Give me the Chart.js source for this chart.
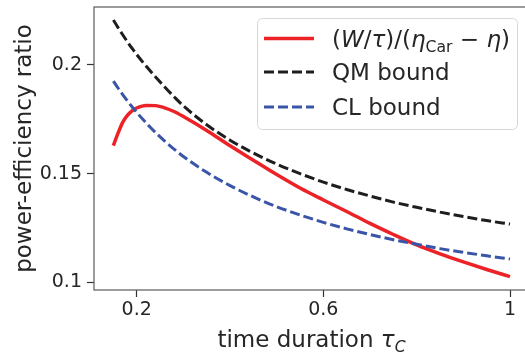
<!DOCTYPE html>
<html>
<head>
<meta charset="utf-8">
<script src="https://cdn.jsdelivr.net/npm/chart.js@4.4.0/dist/chart.umd.min.js"></script>
<style>
  html, body { margin: 0; padding: 0; background: #fff; overflow: hidden; }
  #wrap { width: 525px; height: 356px; overflow: hidden; position: relative; }
  #box { width: 540px; height: 356px; }
</style>
</head>
<body>
<div id="wrap"><div id="box"><canvas id="chart"></canvas></div></div>
<script>
// ================= DATA =================
const tau = [0.15, 0.16, 0.17, 0.18, 0.19, 0.2, 0.22, 0.24, 0.26, 0.28, 0.3, 0.35, 0.4,
             0.45, 0.5, 0.55, 0.6, 0.65, 0.7, 0.75, 0.8, 0.85, 0.9, 0.95, 1.0];
const powerRatio = [0.1629, 0.1686, 0.1736, 0.1768, 0.1789, 0.1802, 0.1814, 0.1813, 0.1803, 0.1786, 0.1763, 0.1699, 0.1628,
                    0.1562, 0.1496, 0.1434, 0.1379, 0.1326, 0.1271, 0.1220, 0.1172, 0.1131, 0.1094, 0.1059, 0.1026];
const qmBound = [0.2207, 0.2172, 0.2139, 0.2107, 0.2077, 0.2048, 0.1995, 0.1946, 0.1899, 0.1854, 0.1812, 0.1725, 0.1654,
                 0.1595, 0.1544, 0.1500, 0.1461, 0.1427, 0.1397, 0.1369, 0.1345, 0.1323, 0.1303, 0.1284, 0.1268];
const clBound = [0.1926, 0.1894, 0.1864, 0.1835, 0.1808, 0.1782, 0.1734, 0.1690, 0.1650, 0.1613, 0.1579, 0.1506, 0.1445,
                 0.1393, 0.1348, 0.1310, 0.1276, 0.1246, 0.1220, 0.1196, 0.1175, 0.1155, 0.1138, 0.1122, 0.1107];

const xTicks = [0.2, 0.6, 1];
const xTickLabels = ["0.2", "0.6", "1"];
const yTicks = [0.1, 0.15, 0.2];
const yTickLabels = ["0.1", "0.15", "0.2"];

// label pieces: [text, style]  n = roman, i = italic, s = subscript roman, si = subscript italic
const redLabel = [["(", "n"], ["W", "i"], ["/", "n"], ["τ", "i"], [")/(", "n"], ["η", "i"], ["Car", "s"], [" − ", "n"], ["η", "i"], [")", "n"]];
const qmLabel = [["QM bound", "n"]];
const clLabel = [["CL bound", "n"]];
const xTitle = [["time duration ", "n"], ["τ", "i"], ["C", "si"]];
const yTitle = "power-efficiency ratio";

// ================= STYLE =================
const FONT = '"DejaVu Sans", sans-serif';
const RED = "#ec2227", BLACK = "#1e1e1e", BLUE = "#3a55a8";
const TEXT = "#262626";

const pts = ys => tau.map((x, i) => ({ x, y: ys[i] }));

// draw a run of mixed text pieces starting at x, on baseline y
function runs(ctx, parts, x, y, size, measureOnly) {
  let w = 0;
  for (const [t, st] of parts) {
    const sub = st === "s" || st === "si";
    const ital = st === "i" || st === "si";
    const fs = sub ? size * 0.68 : size;
    ctx.font = (ital ? "italic " : "") + fs + "px " + FONT;
    if (!measureOnly) ctx.fillText(t, x + w, y + (sub ? size * 0.2 : 0));
    w += ctx.measureText(t).width;
  }
  return w;
}

const decor = {
  id: "decor",
  afterDraw(chart) {
    const { ctx, chartArea: a } = chart;
    ctx.save();
    // frame
    ctx.strokeStyle = "#5a5a5a";
    ctx.lineWidth = 1.2;
    ctx.strokeRect(a.left, a.top, a.right - a.left, a.bottom - a.top);

    ctx.fillStyle = TEXT;
    ctx.textBaseline = "alphabetic";
    ctx.textAlign = "left";

    // x title
    const wx = runs(ctx, xTitle, 0, 0, 23, true);
    runs(ctx, xTitle, (a.left + a.right) / 2 - wx / 2, 347, 23);

    // y title
    ctx.save();
    ctx.translate(31, (a.top + a.bottom) / 2);
    ctx.rotate(-Math.PI / 2);
    ctx.font = "23px " + FONT;
    ctx.textAlign = "center";
    ctx.fillText(yTitle, 0, 0);
    ctx.restore();

    // legend box
    const bx = 257.5, by = 18.5, bw = 260, bh = 111, r = 5;
    ctx.beginPath();
    ctx.moveTo(bx + r, by);
    ctx.arcTo(bx + bw, by, bx + bw, by + bh, r);
    ctx.arcTo(bx + bw, by + bh, bx, by + bh, r);
    ctx.arcTo(bx, by + bh, bx, by, r);
    ctx.arcTo(bx, by, bx + bw, by, r);
    ctx.closePath();
    ctx.fillStyle = "rgba(255,255,255,0.8)";
    ctx.fill();
    ctx.strokeStyle = "#d6d6d6";
    ctx.lineWidth = 1;
    ctx.stroke();

    const items = [
      { parts: redLabel, color: RED, dash: [], w: 3.5, y: 38.5 },
      { parts: qmLabel, color: BLACK, dash: [10, 4], w: 3, y: 72 },
      { parts: clLabel, color: BLUE, dash: [10, 4], w: 3, y: 107 }
    ];
    for (const it of items) {
      ctx.beginPath();
      ctx.setLineDash(it.dash);
      ctx.lineCap = "butt";
      ctx.strokeStyle = it.color;
      ctx.lineWidth = it.w;
      ctx.moveTo(264, it.y);
      ctx.lineTo(314, it.y);
      ctx.stroke();
      ctx.setLineDash([]);
      ctx.fillStyle = TEXT;
      runs(ctx, it.parts, 332, it.y + 8.4, 23);
    }
    ctx.restore();
  }
};

// ================= CHART =================
const ctxC = document.getElementById("chart").getContext("2d");
new Chart(ctxC, {
  type: "line",
  data: {
    datasets: [
      { data: pts(powerRatio), borderColor: RED, borderWidth: 3.5, order: 3 },
      { data: pts(qmBound), borderColor: BLACK, borderWidth: 3, borderDash: [10, 4], order: 2 },
      { data: pts(clBound), borderColor: BLUE, borderWidth: 3, borderDash: [10, 4], order: 1 }
    ]
  },
  options: {
    responsive: true,
    maintainAspectRatio: false,
    animation: false,
    devicePixelRatio: 1,
    layout: { padding: { left: 0, top: 7, right: 11, bottom: 0 } },
    elements: {
      point: { radius: 0 },
      line: { cubicInterpolationMode: "monotone", fill: false, borderCapStyle: "butt" }
    },
    plugins: { legend: { display: false }, tooltip: { enabled: false } },
    scales: {
      x: {
        type: "linear",
        min: 0.1085,
        max: 1.0407,
        border: { display: false },
        grid: { drawOnChartArea: false, tickLength: 7, tickWidth: 1.2, color: "#333" },
        ticks: {
          color: TEXT,
          font: { family: FONT, size: 19 },
          padding: 2,
          maxRotation: 0,
          callback: (v) => { const k = xTicks.indexOf(v); return k >= 0 ? xTickLabels[k] : ""; }
        },
        afterBuildTicks: (s) => { s.ticks = xTicks.map(v => ({ value: v })); },
        afterFit: (s) => { s.height = 66; s.paddingLeft = 0; s.paddingRight = 0; }
      },
      y: {
        type: "linear",
        min: 0.09646,
        max: 0.22668,
        border: { display: false },
        grid: { drawOnChartArea: false, tickLength: 7, tickWidth: 1.2, color: "#333" },
        ticks: {
          color: TEXT,
          font: { family: FONT, size: 19 },
          padding: 5,
          callback: (v) => { const k = yTicks.indexOf(v); return k >= 0 ? yTickLabels[k] : ""; }
        },
        afterBuildTicks: (s) => { s.ticks = yTicks.map(v => ({ value: v })); },
        afterFit: (s) => { s.width = 94; s.paddingTop = 0; s.paddingBottom = 0; }
      }
    }
  },
  plugins: [decor]
});
</script>
</body>
</html>
